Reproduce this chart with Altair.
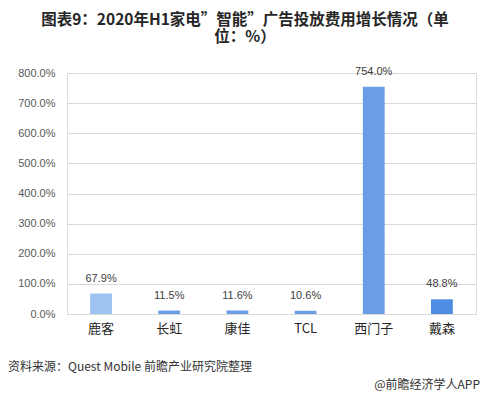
import altair as alt
import pandas as pd

categories = ["鹿客", "长虹", "康佳", "TCL", "西门子", "戴森"]
values = [67.9, 11.5, 11.6, 10.6, 754.0, 48.8]
colors = ["#9DC3F2", "#6A9FE8", "#6A9FE8", "#6A9FE8", "#6A9FE8", "#4F8DE2"]
y_ticks = [0, 100, 200, 300, 400, 500, 600, 700, 800]

title_line1 = "图表9：2020年H1家电\u201d智能\u201d广告投放费用增长情况（单"
title_line2 = "位：%）"
source_text = "资料来源：Quest Mobile 前瞻产业研究院整理"
brand_text = "@前瞻经济学人APP"

FONT = "Noto Sans CJK SC"

df = pd.DataFrame({
    "cat": categories,
    "val": values,
    "label": [f"{v:.1f}%" for v in values],
    "color": colors,
})

W, H = 409, 241

xenc = alt.X("cat:N", sort=categories,
             scale=alt.Scale(paddingInner=0.68, paddingOuter=0.34),
             axis=alt.Axis(title=None, labelAngle=0, domain=True, domainColor="#d9d9d9",
                           ticks=False, labelFontSize=13, labelColor="#262626",
                           labelPadding=8, labelFont=FONT))
yenc = alt.Y("val:Q", scale=alt.Scale(domain=[0, 800]),
             axis=alt.Axis(title=None, values=y_ticks, domain=False, ticks=False,
                           labelOverlap=False,
                           labelExpr="format(datum.value, '.1f') + '%'",
                           labelFontSize=11, labelColor="#595959", labelPadding=12,
                           gridColor="#d9d9d9", labelFont="Liberation Sans"))

bars = alt.Chart(df).mark_bar().encode(
    x=xenc, y=yenc, color=alt.Color("color:N", scale=None))

labels = alt.Chart(df).mark_text(dy=-10, fontSize=11, color="#404040",
                                 font="Liberation Sans", baseline="bottom").encode(
    x=xenc, y=yenc, text="label:N")


def text_layer(t, x, y, **kw):
    return alt.Chart(pd.DataFrame({"t": [t]})).mark_text(
        baseline="middle", font=FONT, **kw).encode(
        x=alt.value(x), y=alt.value(y), text="t:N")


title1 = text_layer(title_line1, 178, -53, fontSize=15.5, fontWeight="bold",
                    color="#262626", align="center")
title2 = text_layer(title_line2, 178, -36, fontSize=15.5, fontWeight="bold",
                    color="#262626", align="center")
src = text_layer(source_text, -59, 294, fontSize=12, color="#333333", align="left")
brand = text_layer(brand_text, 413, 312, fontSize=12, color="#333333", align="right")

chart = alt.layer(bars, labels, title1, title2, src, brand).properties(
    width=W, height=H,
    autosize=alt.AutoSizeParams(type="none"),
    padding={"left": 59, "top": 65, "right": 6, "bottom": 77},
).configure_view(stroke=None).configure(background="white")

chart.save("out.html", embed_options={"renderer": "svg", "actions": False})
